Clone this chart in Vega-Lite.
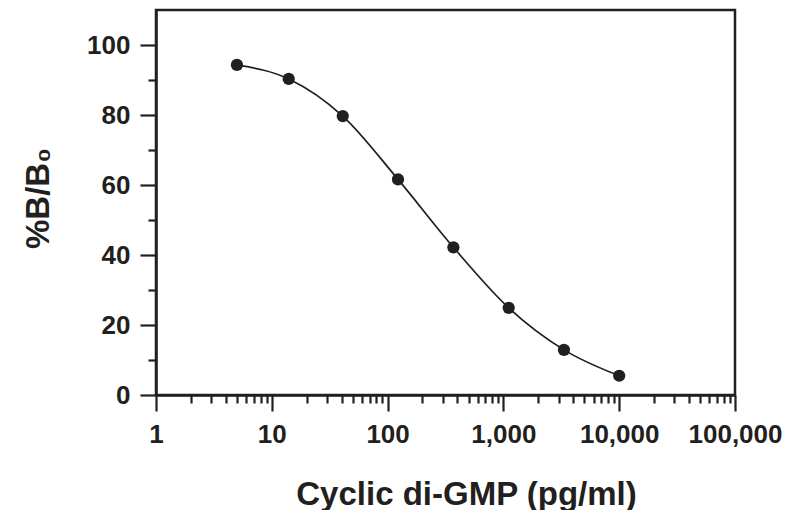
{
  "$schema": "https://vega.github.io/schema/vega-lite/v6.json",
  "width": 579,
  "height": 385,
  "autosize": "none",
  "padding": {"left": 156, "top": 10, "right": 52, "bottom": 115},
  "background": "white",
  "config": {
    "view": {"stroke": "#231f20", "strokeWidth": 2.5},
    "axis": {
      "domainColor": "#231f20",
      "domainWidth": 2.5,
      "tickColor": "#231f20",
      "tickWidth": 2.2,
      "labelFont": "Liberation Sans",
      "labelFontWeight": "bold",
      "labelFontSize": 26,
      "labelColor": "#231f20",
      "titleFont": "Liberation Sans",
      "titleFontWeight": "bold",
      "titleFontSize": 33,
      "titleColor": "#231f20",
      "grid": false
    }
  },
  "data": {
    "values": [
      {"conc": 5, "pct": 94.3},
      {"conc": 14, "pct": 90.3},
      {"conc": 41, "pct": 79.7},
      {"conc": 123, "pct": 61.6},
      {"conc": 370, "pct": 42.2},
      {"conc": 1111, "pct": 24.9},
      {"conc": 3333, "pct": 12.9},
      {"conc": 10000, "pct": 5.5}
    ]
  },
  "layer": [
    {
      "mark": {"type": "line", "interpolate": "monotone", "color": "#231f20", "strokeWidth": 1.7},
      "encoding": {
        "x": {
          "field": "conc", "type": "quantitative",
          "scale": {"type": "log", "domain": [1, 100000], "nice": false},
          "axis": {
            "orient": "bottom",
            "values": [1, 10, 100, 1000, 10000, 100000],
            "format": ",",
            "tickSize": 16,
            "labelPadding": 10,
            "labelFlush": false,
            "labelOverlap": false,
            "title": "Cyclic di-GMP (pg/ml)",
            "titleX": 310,
            "titleY": 109,
            "titleBaseline": "alphabetic",
            "titleAnchor": "middle"
          }
        },
        "y": {
          "field": "pct", "type": "quantitative",
          "scale": {"domain": [0, 110], "nice": false},
          "axis": {
            "orient": "left",
            "values": [0, 20, 40, 60, 80, 100],
            "tickSize": 16,
            "labelPadding": 10,
            "title": "%B/B₀",
            "titleX": -118,
            "titleY": 188,
            "titleBaseline": "middle",
            "titleAnchor": "middle"
          }
        }
      }
    },
    {
      "mark": {"type": "point", "filled": true, "color": "#231f20", "size": 150, "opacity": 1},
      "encoding": {
        "x": {
          "field": "conc", "type": "quantitative",
          "scale": {"type": "log", "domain": [1, 100000], "nice": false},
          "axis": {
            "orient": "bottom",
            "values": [2,3,4,5,6,7,8,9,20,30,40,50,60,70,80,90,200,300,400,500,600,700,800,900,2000,3000,4000,5000,6000,7000,8000,9000,20000,30000,40000,50000,60000,70000,80000,90000],
            "tickSize": 8,
            "labels": false,
            "domain": false,
            "title": null
          }
        },
        "y": {
          "field": "pct", "type": "quantitative",
          "scale": {"domain": [0, 110], "nice": false},
          "axis": {
            "orient": "left",
            "values": [10, 30, 50, 70, 90],
            "tickSize": 8,
            "labels": false,
            "domain": false,
            "title": null
          }
        }
      }
    }
  ],
  "resolve": {"axis": {"x": "independent", "y": "independent"}}
}
